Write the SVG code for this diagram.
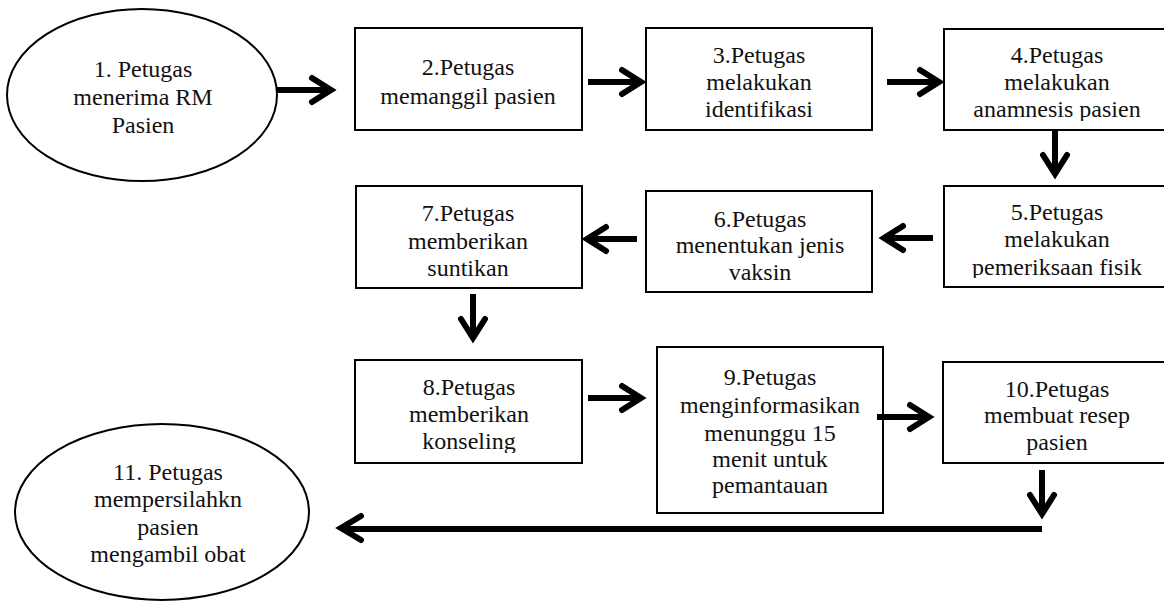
<svg xmlns="http://www.w3.org/2000/svg" width="1164" height="606" viewBox="0 0 1164 606" font-family="Liberation Serif, DejaVu Serif, serif" font-size="24">
  <style>
    .box { fill: #fff; stroke: #000; stroke-width: 2; }
    .oval { fill: #fff; stroke: #000; stroke-width: 2; }
    .lbl { fill: #111; text-anchor: middle; }
    .shaft { fill: none; stroke: #000; stroke-width: 6; stroke-linecap: butt; }
    .head { fill: none; stroke: #000; stroke-width: 6; stroke-linecap: round; stroke-linejoin: miter; }
  </style>
  <defs>
    <!-- text areas that cut off the last line's descenders -->
    <clipPath id="clip4"><rect x="944" y="28" width="226" height="93"/></clipPath>
    <clipPath id="clip5"><rect x="944" y="186" width="226" height="92"/></clipPath>
    <clipPath id="clip8"><rect x="355" y="360" width="227" height="93"/></clipPath>
  </defs>
  <rect width="1164" height="606" fill="#fff"/>

  <g id="n1">
    <ellipse class="oval" cx="142" cy="95" rx="135" ry="86"/>
    <text class="lbl" x="143" y="77">1. Petugas</text>
    <text class="lbl" x="143" y="105">menerima RM</text>
    <text class="lbl" x="143" y="133">Pasien</text>
  </g>

  <g id="n2">
    <rect class="box" x="355" y="28" width="227" height="102"/>
    <text class="lbl" x="468" y="75">2.Petugas</text>
    <text class="lbl" x="468" y="104">memanggil pasien</text>
  </g>

  <g id="n3">
    <rect class="box" x="646" y="28" width="226" height="102"/>
    <text class="lbl" x="759" y="63">3.Petugas</text>
    <text class="lbl" x="759" y="90">melakukan</text>
    <text class="lbl" x="759" y="117">identifikasi</text>
  </g>

  <g id="n4">
    <rect class="box" x="944" y="29" width="226" height="101"/>
    <g clip-path="url(#clip4)">
      <text class="lbl" x="1057" y="63">4.Petugas</text>
      <text class="lbl" x="1057" y="90">melakukan</text>
      <text class="lbl" x="1057" y="117">anamnesis pasien</text>
    </g>
  </g>

  <g id="n5">
    <rect class="box" x="944" y="186" width="226" height="101"/>
    <g clip-path="url(#clip5)">
      <text class="lbl" x="1057" y="220">5.Petugas</text>
      <text class="lbl" x="1057" y="247">melakukan</text>
      <text class="lbl" x="1057" y="275">pemeriksaan fisik</text>
    </g>
  </g>

  <g id="n6">
    <rect class="box" x="646" y="191" width="226" height="101"/>
    <text class="lbl" x="760" y="227">6.Petugas</text>
    <text class="lbl" x="760" y="253">menentukan jenis</text>
    <text class="lbl" x="760" y="280">vaksin</text>
  </g>

  <g id="n7">
    <rect class="box" x="356" y="186" width="226" height="102"/>
    <text class="lbl" x="468" y="221">7.Petugas</text>
    <text class="lbl" x="468" y="249">memberikan</text>
    <text class="lbl" x="468" y="276">suntikan</text>
  </g>

  <g id="n8">
    <rect class="box" x="355" y="360" width="227" height="103"/>
    <g clip-path="url(#clip8)">
      <text class="lbl" x="469" y="395">8.Petugas</text>
      <text class="lbl" x="469" y="422">memberikan</text>
      <text class="lbl" x="469" y="449">konseling</text>
    </g>
  </g>

  <g id="n9">
    <rect class="box" x="657" y="347" width="226" height="166"/>
    <text class="lbl" x="770" y="385">9.Petugas</text>
    <text class="lbl" x="770" y="413">menginformasikan</text>
    <text class="lbl" x="770" y="441">menunggu 15</text>
    <text class="lbl" x="770" y="467">menit untuk</text>
    <text class="lbl" x="770" y="493">pemantauan</text>
  </g>

  <g id="n10">
    <rect class="box" x="943" y="362" width="226" height="101"/>
    <text class="lbl" x="1057" y="397">10.Petugas</text>
    <text class="lbl" x="1057" y="423">membuat resep</text>
    <text class="lbl" x="1057" y="450">pasien</text>
  </g>

  <g id="n11">
    <ellipse class="oval" cx="162" cy="512" rx="147" ry="88"/>
    <text class="lbl" x="168" y="480">11. Petugas</text>
    <text class="lbl" x="168" y="507">mempersilahkn</text>
    <text class="lbl" x="168" y="535">pasien</text>
    <text class="lbl" x="168" y="562">mengambil obat</text>
  </g>

  <g id="connectors">
    <!-- 1 -> 2 -->
    <path class="shaft" d="M277,90 H331"/>
    <path class="head" d="M312,78 L331,90 L312,102"/>
    <!-- 2 -> 3 -->
    <path class="shaft" d="M588,82 H641"/>
    <path class="head" d="M622,70 L641,82 L622,94"/>
    <!-- 3 -> 4 -->
    <path class="shaft" d="M887,82 H939"/>
    <path class="head" d="M920,70 L939,82 L920,94"/>
    <!-- 4 -> 5 -->
    <path class="shaft" d="M1055,130 V174"/>
    <path class="head" d="M1043,155 L1055,174 L1067,155"/>
    <!-- 5 -> 6 -->
    <path class="shaft" d="M933,238 H884"/>
    <path class="head" d="M903,226 L884,238 L903,250"/>
    <!-- 6 -> 7 -->
    <path class="shaft" d="M637,239 H587"/>
    <path class="head" d="M606,227 L587,239 L606,251"/>
    <!-- 7 -> 8 -->
    <path class="shaft" d="M473,294 V338"/>
    <path class="head" d="M461,319 L473,338 L485,319"/>
    <!-- 8 -> 9 -->
    <path class="shaft" d="M588,398 H641"/>
    <path class="head" d="M622,386 L641,398 L622,410"/>
    <!-- 9 -> 10 -->
    <path class="shaft" d="M877,417 H929"/>
    <path class="head" d="M910,405 L929,417 L910,429"/>
    <!-- 10 -> down -->
    <path class="shaft" d="M1042,470 V514"/>
    <path class="head" d="M1030,495 L1042,514 L1054,495"/>
    <!-- back to 11 -->
    <path class="shaft" d="M1042,529 H341"/>
    <path class="head" d="M361,516 L341,528 L361,540"/>
  </g>
</svg>
